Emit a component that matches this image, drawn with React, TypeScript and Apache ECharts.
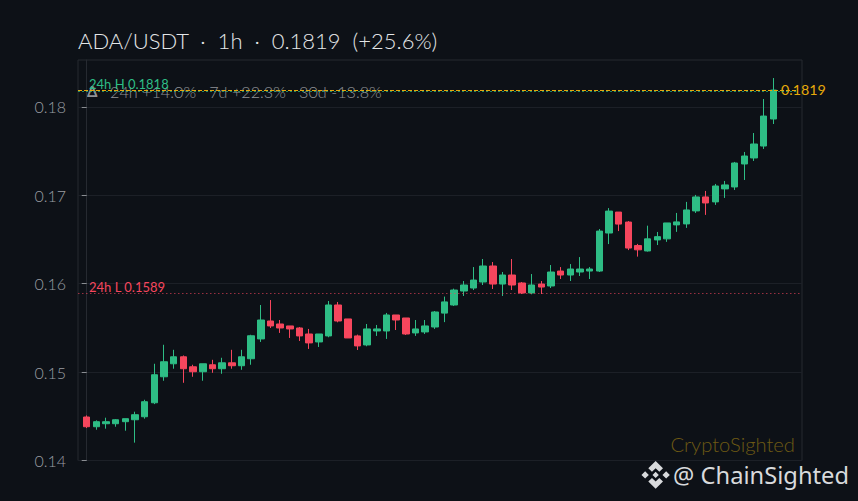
import React, { useEffect, useRef } from "react";
import * as echarts from "echarts";

const opens = [
  0.14492, 0.14382, 0.14416, 0.14416, 0.14439, 0.14461, 0.14495, 0.14653, 0.14947, 0.15094, 0.15173, 0.1506,
  0.15004, 0.15083, 0.15038, 0.15105, 0.15072, 0.15151, 0.15375, 0.15578, 0.15544, 0.15522, 0.15499, 0.15431,
  0.15341, 0.15409, 0.15759, 0.15601, 0.15409, 0.15307, 0.15465, 0.15465, 0.15646, 0.15612, 0.15443, 0.15454,
  0.1551, 0.15667, 0.15759, 0.15917, 0.15951, 0.16019, 0.162, 0.15996, 0.16098, 0.16008, 0.15895, 0.15996,
  0.15974, 0.16143, 0.16098, 0.16132, 0.16143, 0.16143, 0.16573, 0.1681, 0.16697, 0.16431, 0.1637, 0.16495,
  0.16507, 0.16665, 0.16676, 0.16823, 0.16981, 0.16925, 0.17072, 0.17094, 0.17354, 0.17422, 0.17557, 0.17863,
];
const closes = [
  0.14382, 0.14439, 0.14439, 0.14461, 0.14473, 0.14518, 0.14665, 0.1497, 0.15117, 0.15173, 0.15038, 0.15004,
  0.15094, 0.15038, 0.15105, 0.15072, 0.15173, 0.15411, 0.15589, 0.15522, 0.15499, 0.15488, 0.15409, 0.1533,
  0.15431, 0.15759, 0.15578, 0.15386, 0.15296, 0.15488, 0.15488, 0.15646, 0.15589, 0.15431, 0.15488, 0.15522,
  0.1568, 0.15794, 0.15928, 0.15985, 0.16041, 0.162, 0.15996, 0.16098, 0.15985, 0.15895, 0.15985, 0.15962,
  0.16132, 0.16098, 0.16166, 0.16166, 0.16166, 0.16595, 0.16821, 0.16674, 0.16403, 0.16383, 0.16507, 0.16532,
  0.16687, 0.16699, 0.16834, 0.16981, 0.16913, 0.17105, 0.17117, 0.17365, 0.17444, 0.1758, 0.17896, 0.1819,
];
const lows = [
  0.14367, 0.14348, 0.1436, 0.14382, 0.14337, 0.14202, 0.14473, 0.14638, 0.14902, 0.15038, 0.14879, 0.14947,
  0.14902, 0.14992, 0.14981, 0.15038, 0.15026, 0.15083, 0.15341, 0.15499, 0.15443, 0.15386, 0.15352, 0.15262,
  0.15284, 0.15394, 0.15563, 0.15386, 0.1525, 0.15292, 0.15409, 0.15375, 0.15476, 0.1542, 0.15409, 0.15431,
  0.15488, 0.15565, 0.15748, 0.15861, 0.15928, 0.15985, 0.1594, 0.15861, 0.15928, 0.15883, 0.1588, 0.15883,
  0.15951, 0.16053, 0.1603, 0.16087, 0.16053, 0.16132, 0.16448, 0.16595, 0.1638, 0.16306, 0.16363, 0.16437,
  0.16473, 0.16586, 0.16631, 0.168, 0.16778, 0.16891, 0.1697, 0.1706, 0.17173, 0.17388, 0.17524, 0.17806,
];
const highs = [
  0.1451, 0.14454, 0.14484, 0.14469, 0.14473, 0.14552, 0.14687, 0.15094, 0.15309, 0.15252, 0.15188, 0.15083,
  0.15094, 0.15139, 0.15162, 0.15252, 0.15252, 0.15422, 0.15759, 0.15815, 0.15589, 0.15522, 0.1551, 0.15488,
  0.15431, 0.15804, 0.15793, 0.15601, 0.15424, 0.15544, 0.15533, 0.15669, 0.15646, 0.15612, 0.15589, 0.15589,
  0.15691, 0.15854, 0.15944, 0.1603, 0.16188, 0.16279, 0.16245, 0.16132, 0.16279, 0.16019, 0.16109, 0.1603,
  0.16211, 0.16188, 0.16222, 0.16301, 0.16188, 0.16618, 0.16855, 0.1681, 0.16708, 0.1645, 0.16656, 0.16585,
  0.16687, 0.168, 0.16925, 0.17004, 0.17049, 0.17128, 0.17162, 0.17377, 0.1749, 0.17704, 0.18089, 0.18326,
];
const yTicks = [0.14, 0.15, 0.16, 0.17, 0.18];
const lastPrice = 0.1819;
const high24h = 0.1818;
const low24h = 0.1589;
const titleText = "ADA/USDT  \u00b7  1h  \u00b7  0.1819  (+25.6%)";
const changeText = "24h +14.0%   7d +22.3%   30d -13.8%";

const LOGO =
  "M13 0 L20 7 L16.5 10.5 L13 7 L9.5 10.5 L6 7 Z M3 10 L6.5 13.5 L3 17 L-0.5 13.5 Z M23 10 L26.5 13.5 L23 17 L19.5 13.5 Z M13 10.5 L16 13.5 L13 16.5 L10 13.5 Z M6 20 L9.5 16.5 L13 20 L16.5 16.5 L20 20 L13 27 Z";

const FONT = "Lato";

export default function App() {
  const ref = useRef<HTMLDivElement>(null);
  useEffect(() => {
    document.body.style.margin = "0";
    document.body.style.background = "#0d1117";
    const chart = echarts.init(ref.current!, undefined, { renderer: "svg" });
    echarts.graphic.registerShape("logo", echarts.graphic.extendPath(LOGO, {}));
    const up = "#2ebd85";
    const down = "#f6465d";
    const option: any = {
      animation: false,
      backgroundColor: "#0d1117",
      textStyle: { fontFamily: FONT },
      grid: {
        left: 78,
        right: 56,
        top: 60,
        bottom: 40.5,
        show: true,
        backgroundColor: "transparent",
        borderColor: "#262a31",
        borderWidth: 1,
      },
      xAxis: {
        type: "value",
        min: -0.9,
        max: 73.96,
        axisLine: { show: false },
        axisTick: { show: false },
        axisLabel: { show: false },
        splitLine: { show: false },
      },
      yAxis: {
        type: "value",
        min: 0.14,
        max: 0.1853,
        interval: 0.01,
        axisLine: { show: true, lineStyle: { color: "#262a31" } },
        axisTick: { show: true, length: 5, lineStyle: { color: "#8a8d92", width: 1 }, customValues: yTicks },
        axisLabel: {
          color: "#9a9ea3",
          fontSize: 16,
          fontWeight: 300,
          fontFamily: FONT,
          margin: 12,
          customValues: yTicks,
          formatter: (v: number) => v.toFixed(2),
        },
        splitLine: { show: true, lineStyle: { color: "#1c2027", width: 1 } },
      },
      series: [
        {
          type: "candlestick",
          barWidth: 7,
          encode: { x: 0, y: [1, 2, 3, 4] },
          itemStyle: { color: up, color0: down, borderColor: up, borderColor0: down, borderWidth: 1 },
          data: opens.map((o, i) => [i, o, closes[i], lows[i], highs[i]]),
          markLine: {
            silent: true,
            symbol: "none",
            animation: false,
            data: [
              [
                {
                  coord: [-0.9, high24h],
                  lineStyle: { color: up, type: [2, 2], width: 1, opacity: 0.7 },
                  label: {
                    show: true,
                    position: "insideStartTop",
                    formatter: "24h H " + high24h.toFixed(4),
                    color: up,
                    opacity: 1,
                    fontSize: 13,
                    fontWeight: 400,
                    fontFamily: FONT,
                    distance: [11, 0],
                  },
                },
                { coord: [73.4, high24h] },
              ],
              [
                {
                  coord: [-0.9, low24h],
                  lineStyle: { color: down, type: [1.5, 2.5], width: 1, opacity: 0.6 },
                  label: {
                    show: true,
                    position: "insideStartTop",
                    formatter: "24h L " + low24h.toFixed(4),
                    color: down,
                    opacity: 1,
                    fontSize: 13,
                    fontWeight: 400,
                    fontFamily: FONT,
                    distance: [11, 0],
                  },
                },
                { coord: [73.96, low24h] },
              ],
              [
                {
                  coord: [-0.9, lastPrice],
                  lineStyle: { color: "#e6a90a", type: [4, 2], width: 1 },
                  label: { show: false },
                },
                { coord: [73.4, lastPrice] },
              ],
            ],
          },
        },
      ],
      graphic: [
        {
          type: "text",
          x: 78,
          y: 40,
          style: {
            text: titleText,
            fill: "#e4e6e8",
            font: `300 22px ${FONT}`,
            textVerticalAlign: "middle",
          },
        },
        {
          type: "text",
          x: 87,
          y: 91,
          style: { text: "\u0394", fill: "#8f9296", font: `700 15px ${FONT}`, textVerticalAlign: "middle" },
        },
        {
          type: "text",
          x: 110,
          y: 91,
          style: { text: changeText, fill: "#8f9296", font: `300 16.2px ${FONT}`, textVerticalAlign: "middle" },
        },
        {
          type: "text",
          x: 781,
          y: 89.5,
          style: { text: lastPrice.toFixed(4), fill: "#e6a90a", font: `400 14.3px ${FONT}`, textVerticalAlign: "middle" },
        },
        {
          type: "text",
          x: 795,
          y: 444,
          style: {
            text: "CryptoSighted",
            fill: "#6e5a14",
            font: `300 20.2px ${FONT}`,
            textAlign: "right",
            textVerticalAlign: "middle",
          },
        },
        {
          type: "logo",
          x: 642,
          y: 461,
          scaleX: 1.05,
          scaleY: 1.03,
          style: { fill: "#d8dadc" },
        },
        {
          type: "text",
          x: 849,
          y: 475,
          style: {
            text: "@ ChainSighted",
            fill: "#d8dadc",
            font: "400 23.7px 'Noto Sans'",
            textAlign: "right",
            textVerticalAlign: "middle",
          },
        },
      ],
    };
    chart.setOption(option);
    return () => chart.dispose();
  }, []);
  return <div ref={ref} style={{ width: 858, height: 501 }} />;
}
